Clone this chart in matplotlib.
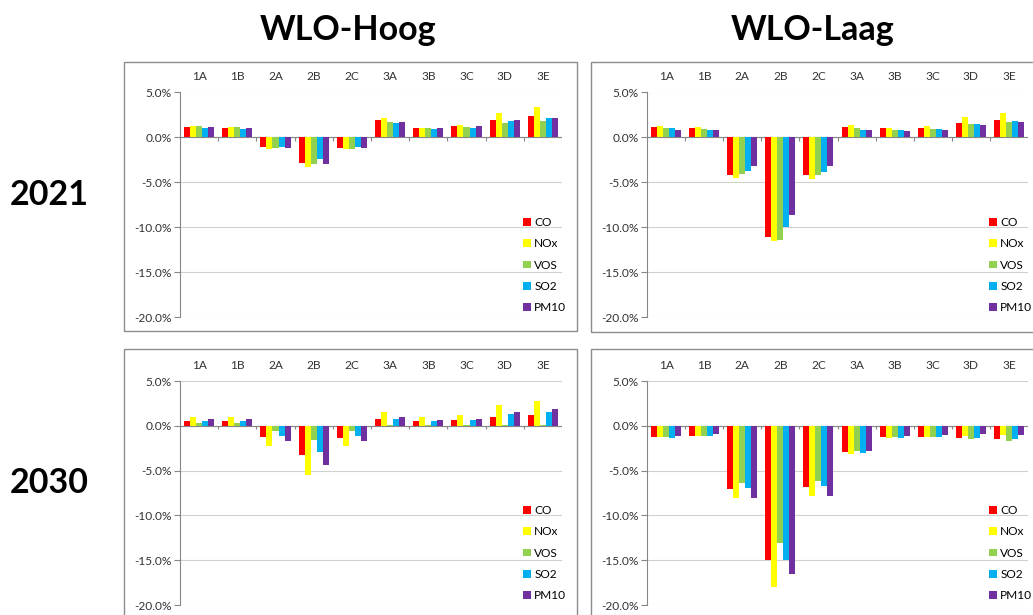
import numpy as np
import matplotlib
matplotlib.use('Agg')
import matplotlib.pyplot as plt
from matplotlib.patches import Patch, Rectangle

plt.rcParams['font.family'] = ['Lato', 'DejaVu Sans']

categories = ['1A', '1B', '2A', '2B', '2C', '3A', '3B', '3C', '3D', '3E']
series = ['CO', 'NOx', 'VOS', 'SO2', 'PM10']
colors = ['#FF0000', '#FFFF00', '#92D050', '#00B0F0', '#7030A0']

# values in percent, per series (CO, NOx, VOS, SO2, PM10) over the 10 categories
hoog_2021 = {
    'CO':   [1.19, 1.10, -1.10, -2.80, -1.19, 1.93, 1.10, 1.26, 1.93, 2.33],
    'NOx':  [1.30, 1.19, -1.30, -3.33, -1.33, 2.19, 1.10, 1.37, 2.67, 3.40],
    'VOS':  [1.26, 1.19, -1.22, -3.00, -1.26, 1.74, 1.10, 1.19, 1.63, 1.81],
    'SO2':  [1.00, 0.93, -1.04, -2.44, -1.04, 1.59, 0.93, 1.04, 1.81, 2.19],
    'PM10': [1.19, 1.10, -1.15, -2.96, -1.15, 1.67, 1.04, 1.22, 1.89, 2.11],
}
laag_2021 = {
    'CO':   [1.15, 1.07, -4.15, -11.10, -4.22, 1.15, 1.00, 1.04, 1.63, 1.89],
    'NOx':  [1.30, 1.19, -4.56, -11.56, -4.63, 1.37, 1.10, 1.26, 2.22, 2.70],
    'VOS':  [1.04, 0.96, -4.07, -11.40, -4.15, 1.00, 0.85, 0.96, 1.48, 1.74],
    'SO2':  [1.00, 0.85, -3.74, -10.00, -3.81, 0.85, 0.81, 0.93, 1.48, 1.81],
    'PM10': [0.85, 0.78, -3.15, -8.67, -3.22, 0.85, 0.74, 0.85, 1.37, 1.67],
}
hoog_2030 = {
    'CO':   [0.59, 0.59, -1.30, -3.30, -1.37, 0.74, 0.52, 0.63, 1.00, 1.19],
    'NOx':  [1.00, 1.00, -2.22, -5.44, -2.22, 1.59, 0.93, 1.26, 2.30, 2.78],
    'VOS':  [0.33, 0.26, -0.59, -1.56, -0.59, 0.10, 0.10, 0.10, 0.10, 0.10],
    'SO2':  [0.59, 0.59, -1.15, -2.89, -1.15, 0.81, 0.56, 0.70, 1.30, 1.56],
    'PM10': [0.74, 0.74, -1.74, -4.40, -1.74, 1.00, 0.63, 0.81, 1.56, 1.89],
}
laag_2030 = {
    'CO':   [-1.30, -1.11, -7.00, -15.00, -6.78, -2.89, -1.30, -1.26, -1.37, -1.52],
    'NOx':  [-1.30, -1.11, -8.10, -18.04, -7.89, -3.11, -1.33, -1.26, -1.15, -1.04],
    'VOS':  [-1.30, -1.11, -6.37, -13.10, -6.19, -2.85, -1.30, -1.30, -1.52, -1.70],
    'SO2':  [-1.37, -1.15, -6.93, -15.00, -6.70, -3.07, -1.37, -1.30, -1.33, -1.52],
    'PM10': [-1.11, -0.89, -8.04, -16.56, -7.89, -2.78, -1.11, -1.00, -0.93, -1.04],
}

yticks = [5, 0, -5, -10, -15, -20]

W, H = 1033, 615
fig = plt.figure(figsize=(W / 100, H / 100), dpi=100)


def px_axes(x0, y0, x1, y1):
    return fig.add_axes([x0 / W, 1 - y1 / H, (x1 - x0) / W, (y1 - y0) / H])


def frame(x0, y0, x1, y1):
    fig.patches.append(Rectangle((x0 / W, 1 - y1 / H), (x1 - x0) / W, (y1 - y0) / H,
                                 transform=fig.transFigure, fill=False,
                                 edgecolor='#8c8c8c', linewidth=1.0, zorder=0))


def draw_panel(ax, data):
    x = np.arange(len(categories))
    w = 0.158
    for i, s in enumerate(series):
        ax.bar(x + (i - 2) * w, data[s], width=w, color=colors[i],
               edgecolor='none', label=s, zorder=3)
    ax.set_xlim(-0.5, len(categories) - 0.5)
    ax.set_ylim(-20, 5)
    ax.set_yticks(yticks)
    ax.set_yticklabels(['%.1f%%' % v for v in yticks], fontsize=8.6, color='#333333')
    ax.set_xticks([])
    ax.tick_params(axis='y', length=4, color='#868686', pad=2)
    for sp in ['top', 'right', 'bottom']:
        ax.spines[sp].set_visible(False)
    ax.spines['left'].set_color('#868686')
    ax.spines['left'].set_linewidth(0.8)
    ax.grid(axis='y', color='#d0d0d0', linewidth=0.8, zorder=0)
    ax.axhline(0, color='#868686', linewidth=0.8, zorder=2)
    ax.vlines(np.arange(len(categories)) + 0.5, -0.4, 0, color='#868686',
              linewidth=0.8, zorder=2)
    for i, c in enumerate(categories):
        ax.text(i, 1.07, c, transform=ax.get_xaxis_transform(), ha='center',
                va='center', fontsize=8.6, color='#333333')
    handles = [Patch(facecolor=colors[i], edgecolor='none', label=s)
               for i, s in enumerate(series)]
    ax.legend(handles=handles, loc='lower right', bbox_to_anchor=(1.03, -0.015),
              frameon=False, fontsize=8.6, handlelength=0.6, handleheight=0.6,
              handletextpad=0.3, labelspacing=0.86, borderaxespad=0.2)


frame(124, 62, 577, 331)
frame(591, 62, 1040, 332)
frame(124, 349, 577, 630)
frame(591, 349, 1040, 630)

ax1 = px_axes(180, 92.5, 562, 317)
ax2 = px_axes(647, 92.5, 1028, 317)
ax3 = px_axes(180, 381, 562, 605)
ax4 = px_axes(647, 381, 1028, 605)

draw_panel(ax1, hoog_2021)
draw_panel(ax2, laag_2021)
draw_panel(ax3, hoog_2030)
draw_panel(ax4, laag_2030)

fig.text(348 / W, 1 - 30 / H, 'WLO-Hoog', ha='center', va='center',
         fontsize=24.5, fontweight='bold')
fig.text(813 / W, 1 - 30 / H, 'WLO-Laag', ha='center', va='center',
         fontsize=24.5, fontweight='bold')
fig.text(49 / W, 1 - 195 / H, '2021', ha='center', va='center',
         fontsize=24.5, fontweight='bold')
fig.text(49 / W, 1 - 483 / H, '2030', ha='center', va='center',
         fontsize=24.5, fontweight='bold')

fig.savefig('out.png', dpi=100)
